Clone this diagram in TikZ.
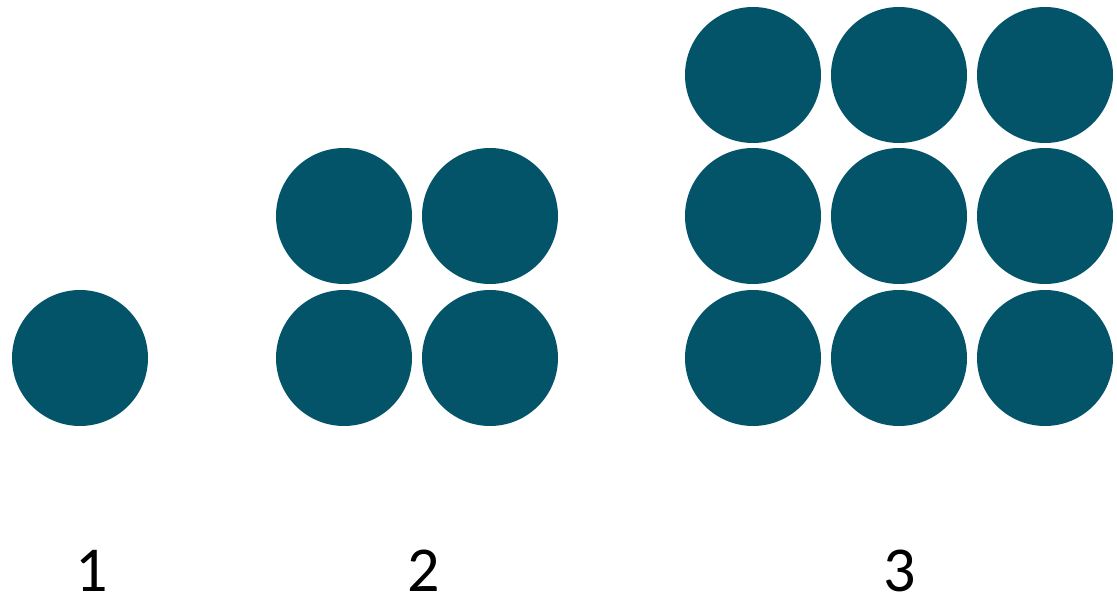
\documentclass[tikz,border=0pt]{standalone}
\usepackage{fontspec}
\setmainfont{Carlito}
\definecolor{dotteal}{RGB}{3,84,105}
\begin{document}
\begin{tikzpicture}[x=1pt,y=-1pt,
  dot/.style={circle,fill=dotteal,draw=none,inner sep=0pt,minimum size=136pt},
  numlabel/.style={anchor=base,inner sep=0pt,font=\fontsize{64}{70}\selectfont}]
\useasboundingbox (0,0) rectangle (1117,597);
% figure 1
\node[dot] (a1) at (80,358) {};
% figure 2
\node[dot] (b11) at (344,216) {};
\node[dot] (b12) at (490,216) {};
\node[dot] (b21) at (344,358) {};
\node[dot] (b22) at (490,358) {};
% figure 3
\node[dot] (c11) at (753,75) {};
\node[dot] (c12) at (899,75) {};
\node[dot] (c13) at (1045,75) {};
\node[dot] (c21) at (753,216) {};
\node[dot] (c22) at (899,216) {};
\node[dot] (c23) at (1045,216) {};
\node[dot] (c31) at (753,358) {};
\node[dot] (c32) at (899,358) {};
\node[dot] (c33) at (1045,358) {};
% labels
\node[numlabel] (l1) at (92,591) {1};
\node[numlabel] (l2) at (424,591) {2};
\node[numlabel] (l3) at (900,591) {3};
\end{tikzpicture}
\end{document}
